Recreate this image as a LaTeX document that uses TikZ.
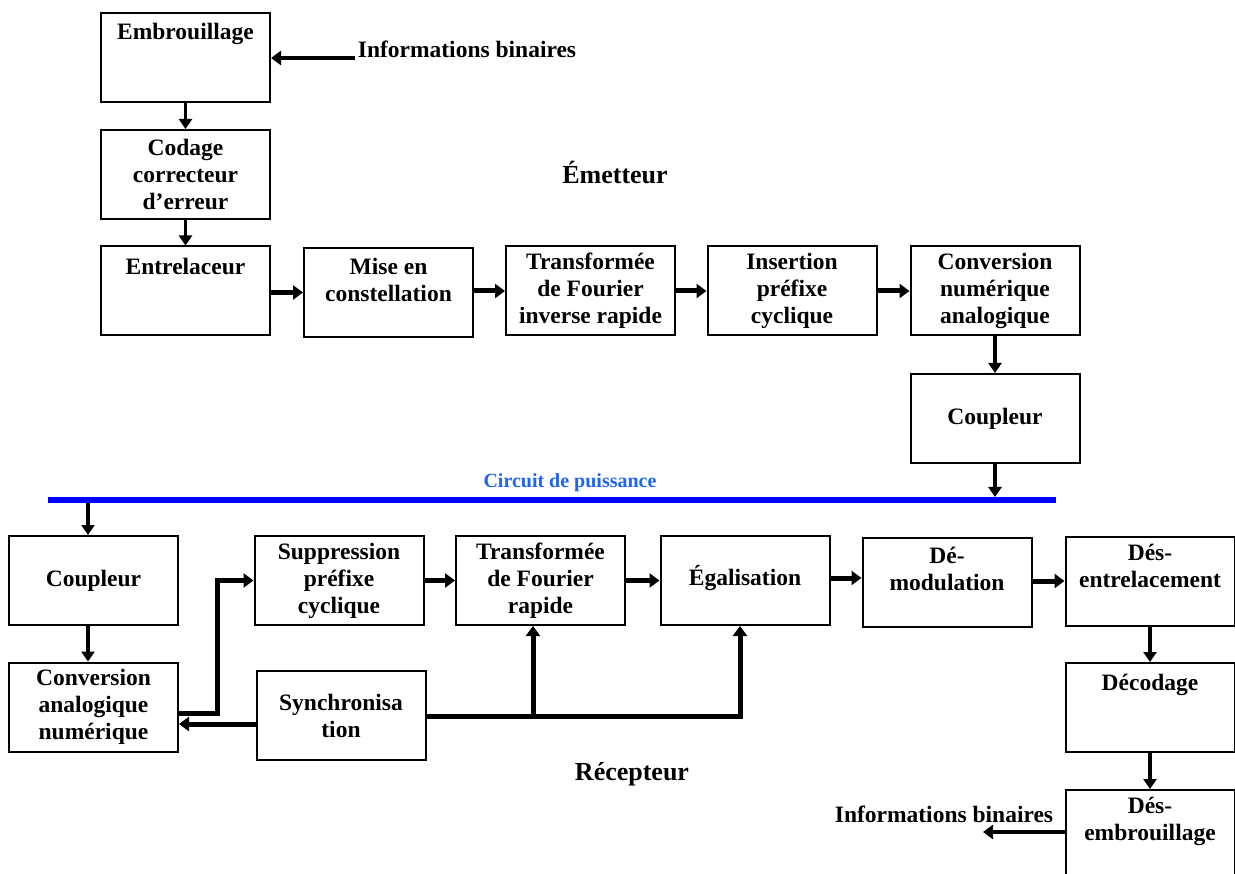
\documentclass[tikz,border=0pt]{standalone}
\usepackage{fontspec}
\setmainfont{Liberation Serif}
\usetikzlibrary{arrows.meta}
\definecolor{busblue}{RGB}{0,0,255}
\definecolor{lblblue}{RGB}{30,100,245}
\begin{document}
\begin{tikzpicture}[x=1pt,y=-1pt,
  box/.style={draw, line width=2pt, minimum width=169pt, minimum height=89pt, inner sep=0pt,
    font=\bfseries\fontsize{23.5}{27}\selectfont, align=center},
  txt/.style={inner sep=0pt, font=\bfseries\fontsize{23.5}{27}\selectfont, align=center},
  big/.style={inner sep=0pt, font=\bfseries\fontsize{26}{28}\selectfont},
  harr/.style={line width=5pt, -{Triangle[length=10pt,width=14pt]}},
  varr/.style={line width=3.5pt, -{Triangle[length=10pt,width=13pt]}},
  bus/.style={line width=6pt, busblue}
]
\useasboundingbox (0,0) rectangle (1235,874);

% ---------- Emetteur ----------
\node[box] (emb) at (185.5,57.5) {};
\node[txt] (embT) at (185.5,34) {Embrouillage};
\node[box] (cod) at (185.5,174.5) {Codage\\correcteur\\d’erreur};
\node[box] (ent) at (185.5,291) {};
\node[txt] (entT) at (185.5,266) {Entrelaceur};
\node[box] (mise) at (388.5,292.5) {};
\node[txt] (miseT) at (388.5,280) {Mise en\\constellation};
\node[box] (tfi) at (590.5,291) {Transformée\\de Fourier\\inverse rapide};
\node[box] (ins) at (792,291) {Insertion\\préfixe\\cyclique};
\node[box] (cna) at (995,291) {Conversion\\numérique\\analogique};
\node[box] (cpl1) at (995,418.5) {Coupleur};

\node[txt] (info1) at (467,49) {Informations binaires};
\coordinate (info1A) at (355,58);
\node[big] (emet) at (615,173) {Émetteur};

\draw[harr, line width=4pt] (info1A) -- (emb.east |- info1A);
\draw[varr] (emb) -- (cod);
\draw[varr] (cod) -- (ent);
\draw[harr] (ent.east |- mise.east) -- (mise.west);
\draw[harr] (mise.east |- tfi.east) -- (tfi.west);
\draw[harr] (tfi.east) -- (ins.west);
\draw[harr] (ins.east) -- (cna.west);
\draw[varr] (cna) -- (cpl1);

% ---------- Bus ----------
\coordinate (busL) at (48,500);
\coordinate (busR) at (1056,500);
\draw[bus] (busL) -- (busR);
\node[inner sep=0pt, text=lblblue, font=\bfseries\fontsize{20}{22}\selectfont] (circ) at (570,483) {Circuit de puissance};
\draw[varr, shorten >=3pt] (cpl1.south) -- (cpl1.south |- busR);

% ---------- Recepteur ----------
\node[box] (cplr) at (93.5,580.5) {Coupleur};
\node[box] (can) at (93.5,707) {Conversion\\analogique\\numérique};
\node[box] (sup) at (339,580.5) {Suppression\\préfixe\\cyclique};
\node[box] (tfr) at (540.5,580.5) {Transformée\\de Fourier\\rapide};
\node[box] (ega) at (745,580.5) {};
\node[txt] (egaT) at (745,578) {Égalisation};
\node[box] (dem) at (947,582.5) {};
\node[txt] (demT) at (947,569) {Dé-\\modulation};
\node[box] (dse) at (1150,581) {};
\node[txt] (dseT) at (1150,566) {Dés-\\entrelacement};
\node[box] (dec) at (1150,707.5) {};
\node[txt] (decT) at (1150,685) {Décodage};
\node[box] (dsb) at (1150,834.5) {};
\node[txt] (dsbT) at (1150,821) {Dés-\\embrouillage};
\node[box] (syn) at (341,715.5) {Synchronisa\\tion};

\node[txt] (info2) at (944,814) {Informations binaires};
\coordinate (info2A) at (983,832);
\node[big] (recep) at (632,774) {Récepteur};

\coordinate (busA) at (88,500);
\draw[varr, shorten <=3pt] (busA) -- (busA |- cplr.north);
\draw[varr] (cplr.south -| busA) -- (can.north -| busA);
\coordinate (canOut) at (can.east |- 0,713);
\path (sup.west) ++(-36.5,0) coordinate (bend);
\draw[harr] (canOut) -| (bend) -- (sup.west);
\draw[harr] (syn.west |- 0,724) -- (can.east |- 0,724);
\coordinate (synOut) at (syn.east |- 0,716);
\coordinate (jn) at (533,716);
\draw[harr] (synOut) -| ([xshift=-5pt]ega.south);
\draw[harr] (jn) -- (jn |- tfr.south);
\draw[harr] (sup.east) -- (tfr.west);
\draw[harr] (tfr.east) -- (ega.west);
\draw[harr] (ega.east |- 0,578) -- (dem.west |- 0,578);
\draw[harr] (dem.east |- dse.west) -- (dse.west);
\draw[varr] (dse) -- (dec);
\draw[varr] (dec) -- (dsb);
\draw[harr, line width=4pt] (dsb.west |- info2A) -- (info2A);
\end{tikzpicture}
\end{document}
